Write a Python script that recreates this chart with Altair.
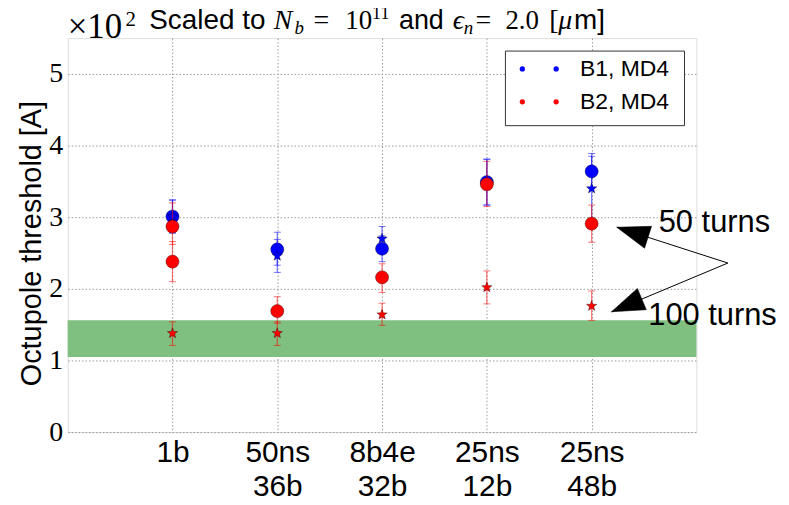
import math
import altair as alt
import pandas as pd

# ---------------- data (threshold in units of 10^2 A) ----------------
categories = ["1b", "50ns\n36b", "8b4e\n32b", "25ns\n12b", "25ns\n48b"]

b1_50 = [3.01, 2.55, 2.56, 3.49, 3.64]
b1_50_lo = [2.78, 2.33, 2.38, 3.17, 3.40]
b1_50_hi = [3.24, 2.79, 2.74, 3.81, 3.89]

b1_100 = [3.01, 2.46, 2.70, 3.49, 3.40]
b1_100_lo = [2.78, 2.23, 2.60, 3.17, 2.95]
b1_100_hi = [3.24, 2.69, 2.87, 3.81, 3.85]

b2_50_pos = [1, 1, 2, 3, 4, 5]
b2_50 = [2.87, 2.38, 1.69, 2.16, 3.46, 2.91]
b2_50_lo = [2.62, 2.10, 1.52, 1.95, 3.15, 2.65]
b2_50_hi = [3.20, 2.66, 1.89, 2.35, 3.78, 3.17]

b2_100 = [1.38, 1.38, 1.64, 2.02, 1.76]
b2_100_lo = [1.21, 1.21, 1.49, 1.79, 1.56]
b2_100_hi = [1.54, 1.54, 1.80, 2.25, 1.97]

band_lo = [1.05]
band_hi = [1.56]

legend_labels = ["B1, MD4", "B2, MD4"]
legend_colors = ["#0000ff", "#ff0000"]

ann_labels = ["50 turns", "100 turns"]
ann_text_x = [5.64, 5.54]
ann_text_y = [2.79, 1.50]
arrow_tail_x = [6.30, 6.30]
arrow_tail_y = [2.36, 2.36]
arrow_tip_x = [5.24, 5.19]
arrow_tip_y = [2.86, 1.68]
arrow_angle = [287.8, 247.3]

W, H = 632, 396
BLUE, RED = "#0000ff", "#ff0000"

pos5 = list(range(1, len(categories) + 1))


def frame(pos, val, lo, hi):
    return pd.DataFrame({"pos": pos, "val": val, "lo": lo, "hi": hi})


df_b1_50 = frame(pos5, b1_50, b1_50_lo, b1_50_hi)
df_b1_100 = frame(pos5, b1_100, b1_100_lo, b1_100_hi)
df_b2_50 = frame(b2_50_pos, b2_50, b2_50_lo, b2_50_hi)
df_b2_100 = frame(pos5, b2_100, b2_100_lo, b2_100_hi)

# ---------------- scales / axes ----------------
label_expr = "[" + ",".join(
    "[" + ",".join("'" + p + "'" for p in c.split("\n")) + "]" for c in categories
) + "][round(datum.value) - 1]"

xscale = alt.Scale(domain=[0, len(categories) + 1], nice=False, zero=False)
yscale = alt.Scale(domain=[0, 5.5], nice=False)

xaxis = alt.Axis(values=pos5, labelExpr=label_expr, grid=True, gridDash=[1.5, 2],
                 gridColor="#9a9a9a", gridWidth=1, ticks=False, domain=False,
                 labelFont="Liberation Sans", labelFontSize=30, labelLineHeight=34,
                 labelPadding=6, labelOverlap=False, labelFlush=False,
                 labelColor="black", title=None)
yaxis = alt.Axis(values=[0, 1, 2, 3, 4, 5], format="d", grid=True, gridDash=[1.5, 2],
                 gridColor="#9a9a9a", gridWidth=1, ticks=False, domain=False,
                 labelFont="Liberation Serif", labelFontSize=28, labelPadding=5,
                 labelColor="black", title="Octupole threshold [A]",
                 titleFont="Liberation Sans", titleFontSize=29,
                 titleFontWeight="normal", titleColor="black", titlePadding=2,
                 titleY=206)


def X(field):
    return alt.X(field + ":Q", scale=xscale, axis=xaxis)


def Y(field):
    return alt.Y(field + ":Q", scale=yscale, axis=yaxis)


# star marker path
pts = []
for k in range(10):
    r = 1.0 if k % 2 == 0 else 0.42
    a = math.radians(-90 + 36 * k)
    pts.append(f"{r * math.cos(a):.3f},{r * math.sin(a):.3f}")
STAR = "M" + "L".join(pts) + "Z"
ARROW = "M0,0L0.7,2L-0.7,2Z"


def series(df, color, shape, size):
    base = alt.Chart(df)
    rule = base.mark_rule(color=color, strokeWidth=1.2, opacity=0.55).encode(
        x=X("pos"), y=Y("lo"), y2="hi")
    cap_lo = base.mark_tick(color=color, orient="horizontal", size=7, thickness=1,
                            opacity=0.55).encode(x=X("pos"), y=Y("lo"))
    cap_hi = base.mark_tick(color=color, orient="horizontal", size=7, thickness=1,
                            opacity=0.55).encode(x=X("pos"), y=Y("hi"))
    pts_ = base.mark_point(shape=shape, filled=True, fill=color, fillOpacity=1,
                           size=size, stroke="#000000", strokeWidth=0.6,
                           strokeOpacity=0.55).encode(x=X("pos"), y=Y("val"))
    return [rule, cap_lo, cap_hi, pts_]


band = alt.Chart(pd.DataFrame({"lo": band_lo, "hi": band_hi})).mark_rect(
    color="#7fbf7f").encode(x=alt.value(0), x2=alt.value(W), y=Y("lo"), y2="hi")

layers = [band]
layers += series(df_b1_50, BLUE, "circle", 175)
layers += series(df_b1_100, BLUE, STAR, 120)
layers += series(df_b2_50, RED, "circle", 175)
layers += series(df_b2_100, RED, STAR, 120)

# ---------------- annotations ----------------
ann = pd.DataFrame({"label": ann_labels, "tx": ann_text_x, "ty": ann_text_y,
                    "ax": arrow_tail_x, "ay": arrow_tail_y,
                    "bx": arrow_tip_x, "by": arrow_tip_y, "ang": arrow_angle})
arrow_lines = alt.Chart(ann).mark_rule(color="black", strokeWidth=1).encode(
    x=X("ax"), y=Y("ay"), x2="bx", y2="by")
arrow_heads = alt.Chart(ann).mark_point(shape=ARROW, filled=True, fill="black",
                                        size=1089, opacity=1, stroke="black",
                                        strokeWidth=0.5).encode(
    x=X("bx"), y=Y("by"), angle=alt.Angle("ang:Q", scale=None))
ann_text = alt.Chart(ann).mark_text(align="left", baseline="alphabetic",
                                    font="Liberation Sans", fontSize=31,
                                    color="black").encode(
    x=X("tx"), y=Y("ty"), text="label:N")
layers += [arrow_lines, arrow_heads, ann_text]

# ---------------- legend (manual, two dots per entry) ----------------
leg = pd.DataFrame({"label": legend_labels, "color": legend_colors,
                    "row": list(range(len(legend_labels)))})
leg["py"] = 31 + 33 * leg["row"]
leg_box = alt.Chart(pd.DataFrame({"a": [0]})).mark_rect(
    fill="white", stroke="#333333", strokeWidth=1).encode(
    x=alt.value(440), x2=alt.value(620), y=alt.value(13), y2=alt.value(88))
leg_dot1 = alt.Chart(leg).mark_point(shape="circle", filled=True, size=28, opacity=1).encode(
    x=alt.value(457), y=alt.Y("py:Q", scale=None),
    fill=alt.Fill("color:N", scale=None))
leg_dot2 = alt.Chart(leg).mark_point(shape="circle", filled=True, size=28, opacity=1).encode(
    x=alt.value(491), y=alt.Y("py:Q", scale=None),
    fill=alt.Fill("color:N", scale=None))
leg_txt = alt.Chart(leg).mark_text(align="left", baseline="middle",
                                   font="Liberation Sans", fontSize=23,
                                   color="black").encode(
    x=alt.value(515), y=alt.Y("py:Q", scale=None), text="label:N")
layers += [leg_box, leg_dot1, leg_dot2, leg_txt]

# ---------------- title pieces and exponent ----------------
SANS, SERIF = "Liberation Sans", "Liberation Serif"
title_pieces = [
    ("Scaled to", 82, -9, SANS, "normal", 28),
    ("N", 207, -9, SERIF, "italic", 28),
    ("b", 228, -4, SERIF, "italic", 19),
    ("=", 247, -9, SERIF, "normal", 28),
    ("10", 279, -9, SERIF, "normal", 27),
    ("11", 306, -19, SERIF, "normal", 18),
    ("and", 333, -9, SANS, "normal", 27),
    ("ϵ", 387, -9, SERIF, "italic", 28),
    ("n", 398, -4, SERIF, "italic", 19),
    ("=", 410, -9, SERIF, "normal", 28),
    ("2.0", 440, -9, SERIF, "normal", 27),
    ("[", 484, -9, SERIF, "normal", 28),
    ("μ", 493, -9, SERIF, "italic", 28),
    ("m]", 509, -9, SANS, "normal", 28),
    ("×10", 0, 0, SERIF, "normal", 35),
    ("2", 58, -12, SERIF, "normal", 21),
]
for txt, px, py, fnt, sty, fs in title_pieces:
    layers.append(
        alt.Chart(pd.DataFrame({"t": [txt]})).mark_text(
            align="left", baseline="alphabetic", font=fnt, fontStyle=sty,
            fontSize=fs, color="black").encode(
            x=alt.value(px), y=alt.value(py), text="t:N"))

chart = alt.layer(*layers).properties(
    width=W, height=H,
    autosize=alt.AutoSizeParams(type="none"),
    padding={"left": 60, "top": 29, "right": 85, "bottom": 72},
).configure_view(stroke="#222222", strokeWidth=1).configure(background="white")

chart.save("out.html", embed_options={"renderer": "svg", "actions": False})
